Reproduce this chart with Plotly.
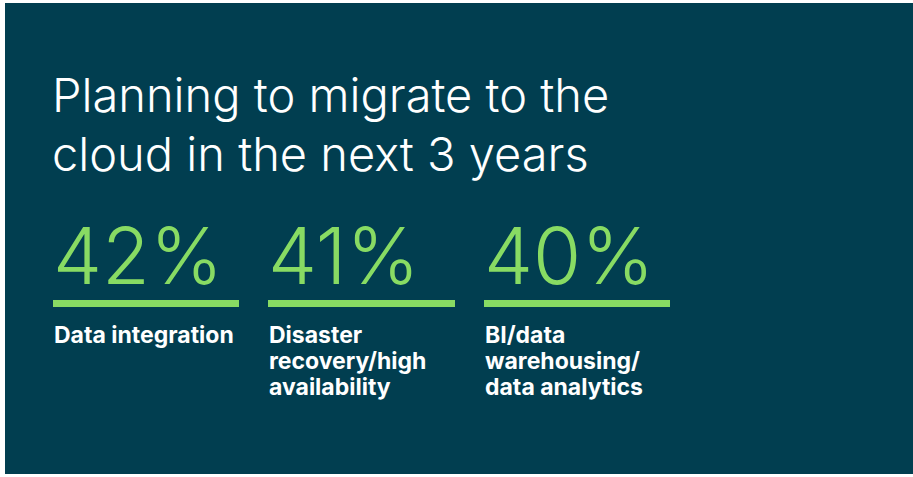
import plotly.graph_objects as go

# ---- data ----
categories = ["Data integration",
              "Disaster<br>recovery/high<br>availability",
              "BI/data<br>warehousing/<br>data analytics"]
values = [42, 41, 40]
title_lines = ["Planning to migrate to the", "cloud in the next 3 years"]

BG = "#013E50"
GREEN = "#88DB63"
W, H = 913, 477

idx = list(range(len(categories)))
half = 0.4316  # half width of the underline bar in category units

fig = go.Figure()
fig.add_trace(go.Bar(
    x=idx, y=[7] * len(idx), base=[300] * len(idx), width=2 * half,
    marker=dict(color=GREEN, line=dict(width=0)), hoverinfo="skip",
    showlegend=False,
))

annotations = []
for k, line in enumerate(title_lines):
    annotations.append(dict(
        text=line, xref="x", yref="y",
        x=-half - 0.014, y=64 + 59 * k, xanchor="left", yanchor="top", align="left",
        showarrow=False,
        font=dict(family="Inter", size=47, color="white", weight=300),
    ))
for i, (cat, v) in enumerate(zip(categories, values)):
    annotations.append(dict(
        text=f"{v}%", xref="x", yref="y",
        x=i - half - 0.01, y=255, xanchor="left", yanchor="middle",
        showarrow=False,
        font=dict(family="Inter", size=78, color=GREEN, weight=300),
    ))
    for k, line in enumerate(cat.split("<br>")):
        annotations.append(dict(
            text=line, xref="x", yref="y",
            x=i - half - 0.005, y=319 + 26 * k, xanchor="left", yanchor="top",
            align="left", showarrow=False,
            font=dict(family="Inter", size=23, color="white", weight=700),
        ))

fig.update_layout(
    width=W, height=H,
    margin=dict(l=5, r=0, t=3, b=3),
    paper_bgcolor="white", plot_bgcolor=BG,
    xaxis=dict(range=[-141 / 215.5, (908 - 141) / 215.5], visible=False, fixedrange=True),
    yaxis=dict(range=[474, 3], visible=False, fixedrange=True),
    annotations=annotations,
    bargap=0,
)
fig.write_html("out.html")
